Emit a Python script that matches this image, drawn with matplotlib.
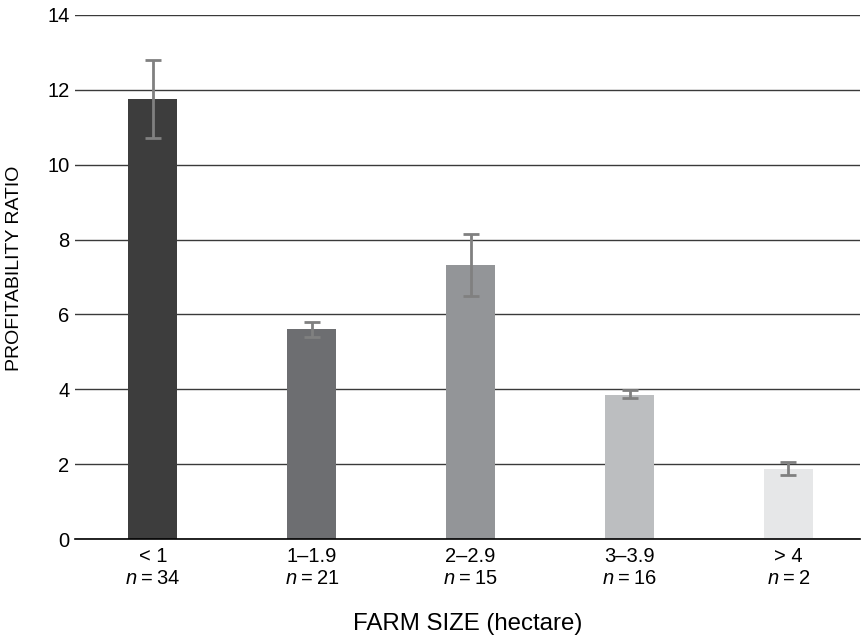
# Profitability ratio by farm size - bar chart with error bars
import numpy as np
import matplotlib.pyplot as plt

plt.rcParams['font.family'] = ['Liberation Sans', 'DejaVu Sans']
plt.rcParams['mathtext.fontset'] = 'custom'
plt.rcParams['mathtext.it'] = 'Liberation Sans:italic'
plt.rcParams['mathtext.rm'] = 'Liberation Sans'

# Data
sizes = ['< 1', '1–1.9', '2–2.9', '3–3.9', '> 4']
n_counts = [34, 21, 15, 16, 2]
ratio = [11.76, 5.60, 7.32, 3.86, 1.88]
err_low = [1.05, 0.20, 0.83, 0.09, 0.17]
err_high = [1.04, 0.20, 0.83, 0.11, 0.19]
bar_colors = ['#3d3d3d', '#6d6e71', '#939598', '#bcbec0', '#e6e7e8']

fig = plt.figure(figsize=(8.66, 6.37), dpi=100)
ax = fig.add_axes([0.0866, 0.1538, 0.9064, 0.8227])

x = np.arange(len(sizes))
ax.bar(x, ratio, width=0.31, color=bar_colors, zorder=2)
ax.errorbar(x, ratio, yerr=[err_low, err_high], fmt='none', ecolor='#808080',
            elinewidth=2, capsize=5.5, capthick=2, zorder=3)

ax.set_ylim(0, 14)
ax.set_xlim(-0.49, 4.45)
ax.set_yticks(np.arange(0, 15, 2))
ax.yaxis.grid(True, color='#3a3a3a', linewidth=1, zorder=0)
ax.set_axisbelow(True)

labels = [s + '\n$n$\u2009=\u2009' + str(n) for s, n in zip(sizes, n_counts)]
ax.set_xticks(x)
ax.set_xticklabels(labels, fontsize=14.5, linespacing=1.15)
ax.tick_params(axis='x', length=0, pad=6)
ax.tick_params(axis='y', length=0, pad=4, labelsize=14.5)

for side in ['top', 'right', 'left']:
    ax.spines[side].set_visible(False)
ax.spines['bottom'].set_color('black')
ax.spines['bottom'].set_linewidth(1.2)

ax.set_xlabel('FARM SIZE (hectare)', fontsize=17.3, labelpad=18)
ax.set_ylabel('PROFITABILITY RATIO', fontsize=14)
ax.yaxis.set_label_coords(-0.066, 0.517)

fig.savefig('out.png', dpi=100)
